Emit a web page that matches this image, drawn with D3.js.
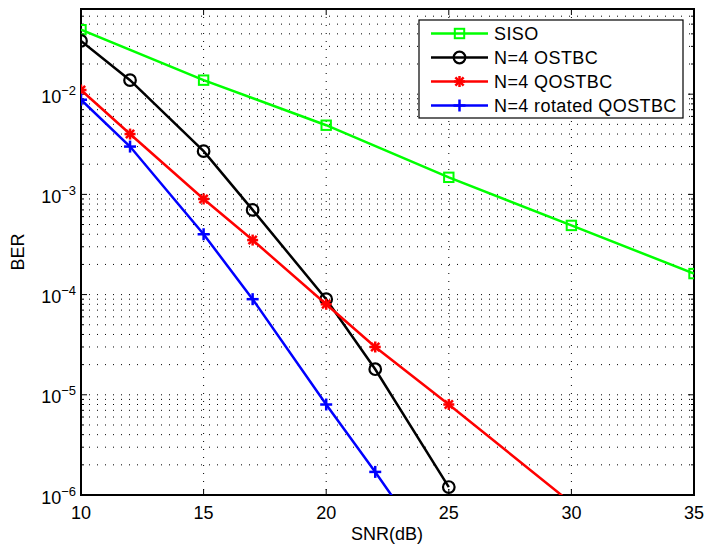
<!DOCTYPE html>
<html><head><meta charset="utf-8">
<script src="https://cdn.jsdelivr.net/npm/d3@7"></script>
<style>body{margin:0;background:#fff;} text{font-family:"Liberation Sans",Arial,sans-serif;}</style>
</head><body>
<svg id="chart" width="706" height="544"></svg>
<script>
const snr10 = [10, 15, 20, 25, 30, 35];
const sisoBER = [0.044, 0.0138, 0.0049, 0.00148, 0.00049, 0.000162];
const snrN4 = [10, 12, 15, 17, 20, 22, 25];
const ostbcBER = [0.034, 0.0138, 0.0027, 0.0007, 0.00009, 0.000018, 0.0000012];
const snrQ = [10, 12, 15, 17, 20, 22, 25, 30];
const qostbcBER = [0.011, 0.004, 0.0009, 0.00035, 0.00008, 0.00003, 0.000008, 0.00000083];
const snrR = [10, 12, 15, 17, 20, 22, 25];
const rotBER = [0.0088, 0.003, 0.0004, 0.00009, 0.000008, 0.0000017, 0.00000015];
const xTicks = [10, 15, 20, 25, 30, 35];
const yExps = [-6, -5, -4, -3, -2];
const legendLabels = ["SISO", "N=4 OSTBC", "N=4 QOSTBC", "N=4 rotated QOSTBC"];

const L = 81, R = 694, T = 9, B = 495;
const svg = d3.select("#chart");
const x = d3.scaleLinear().domain([10, 35]).range([L, R]);
const y = d3.scaleLog().domain([1e-6, Math.pow(10, -1.15)]).range([B, T]);

svg.append("defs").append("clipPath").attr("id", "clip")
  .append("rect").attr("x", L).attr("y", T).attr("width", R - L).attr("height", B - T);

// grid
const grid = svg.append("g");
const minorVals = [];
for (let e = -6; e <= -2; e++) for (let m = 1; m <= 9; m++) {
  const v = m * Math.pow(10, e);
  if (v <= y.domain()[1]) minorVals.push(v);
}
grid.selectAll("line.h").data(minorVals).enter().append("line")
  .attr("x1", L).attr("x2", R).attr("y1", d => y(d)).attr("y2", d => y(d))
  .attr("stroke", "#000").attr("stroke-width", 1).attr("stroke-dasharray", "1,7");
grid.selectAll("line.v").data(xTicks).enter().append("line")
  .attr("x1", d => x(d)).attr("x2", d => x(d)).attr("y1", T).attr("y2", B)
  .attr("stroke", "#000").attr("stroke-width", 1).attr("stroke-dasharray", "1,7");

// ticks (inward on all sides)
const ticks = svg.append("g").attr("stroke", "#000").attr("stroke-width", 1);
xTicks.forEach(t => {
  ticks.append("line").attr("x1", x(t)).attr("x2", x(t)).attr("y1", B).attr("y2", B - 6);
  ticks.append("line").attr("x1", x(t)).attr("x2", x(t)).attr("y1", T).attr("y2", T + 6);
});
minorVals.forEach(v => {
  const major = Math.abs(Math.log10(v) - Math.round(Math.log10(v))) < 1e-9;
  const len = major ? 6 : 3;
  ticks.append("line").attr("x1", L).attr("x2", L + len).attr("y1", y(v)).attr("y2", y(v));
  ticks.append("line").attr("x1", R).attr("x2", R - len).attr("y1", y(v)).attr("y2", y(v));
});

// frame
svg.append("rect").attr("x", L).attr("y", T).attr("width", R - L).attr("height", B - T)
  .attr("fill", "none").attr("stroke", "#000").attr("stroke-width", 2);

// tick labels
svg.selectAll("text.xt").data(xTicks).enter().append("text")
  .attr("x", d => x(d)).attr("y", 519).attr("text-anchor", "middle")
  .attr("font-size", 18).text(d => d);
yExps.forEach(e => {
  const t = svg.append("text").attr("x", 76).attr("y", y(Math.pow(10, e)) + 8.5)
    .attr("text-anchor", "end").attr("font-size", 18);
  t.append("tspan").text("10");
  t.append("tspan").attr("dy", -8).attr("font-size", 13).text("\u2212" + Math.abs(e));
});

svg.append("text").attr("x", 387).attr("y", 540).attr("text-anchor", "middle")
  .attr("font-size", 18).text("SNR(dB)");
svg.append("text").attr("transform", "translate(24,252) rotate(-90)")
  .attr("text-anchor", "middle").attr("font-size", 18).text("BER");

// markers
function marker(g, type, color, cx, cy) {
  if (type === "square") {
    g.append("rect").attr("x", cx - 4.7).attr("y", cy - 4.7).attr("width", 9.4).attr("height", 9.4)
      .attr("fill", "none").attr("stroke", color).attr("stroke-width", 2);
  } else if (type === "circle") {
    g.append("circle").attr("cx", cx).attr("cy", cy).attr("r", 5.8)
      .attr("fill", "none").attr("stroke", color).attr("stroke-width", 2.2);
  } else if (type === "star") {
    const s = 5.5, d = s * 0.75;
    [[-s,0,s,0],[0,-s,0,s],[-d,-d,d,d],[-d,d,d,-d]].forEach(p =>
      g.append("line").attr("x1", cx + p[0]).attr("y1", cy + p[1]).attr("x2", cx + p[2]).attr("y2", cy + p[3])
        .attr("stroke", color).attr("stroke-width", 2.5));
  } else if (type === "plus") {
    const s = 6;
    [[-s,0,s,0],[0,-s,0,s]].forEach(p =>
      g.append("line").attr("x1", cx + p[0]).attr("y1", cy + p[1]).attr("x2", cx + p[2]).attr("y2", cy + p[3])
        .attr("stroke", color).attr("stroke-width", 2.5));
  }
}

const series = [
  {xs: snr10, ys: sisoBER, color: "#00ff00", m: "square"},
  {xs: snrN4, ys: ostbcBER, color: "#000000", m: "circle"},
  {xs: snrQ, ys: qostbcBER, color: "#ff0000", m: "star"},
  {xs: snrR, ys: rotBER, color: "#0000ff", m: "plus"}
];
const plot = svg.append("g").attr("clip-path", "url(#clip)");
const line = d3.line().x(d => x(d[0])).y(d => y(d[1]));
series.forEach(s => {
  const pts = s.xs.map((v, i) => [v, s.ys[i]]);
  plot.append("path").datum(pts).attr("d", line).attr("fill", "none")
    .attr("stroke", s.color).attr("stroke-width", 2.5);
  const mg = plot.append("g");
  pts.forEach(p => marker(mg, s.m, s.color, x(p[0]), y(p[1])));
});

// legend
const lg = svg.append("g");
lg.append("rect").attr("x", 419).attr("y", 20).attr("width", 264).attr("height", 98)
  .attr("fill", "#fff").attr("stroke", "#000").attr("stroke-width", 1.2);
series.forEach((s, i) => {
  const ly = 33.5 + i * 24;
  lg.append("line").attr("x1", 431).attr("x2", 488).attr("y1", ly).attr("y2", ly)
    .attr("stroke", s.color).attr("stroke-width", 2.5);
  marker(lg, s.m, s.color, 459.5, ly);
  lg.append("text").attr("x", 494).attr("y", ly + 6.5).attr("font-size", 18)
    .attr("letter-spacing", 0.4).text(legendLabels[i]);
});
</script>
</body></html>
